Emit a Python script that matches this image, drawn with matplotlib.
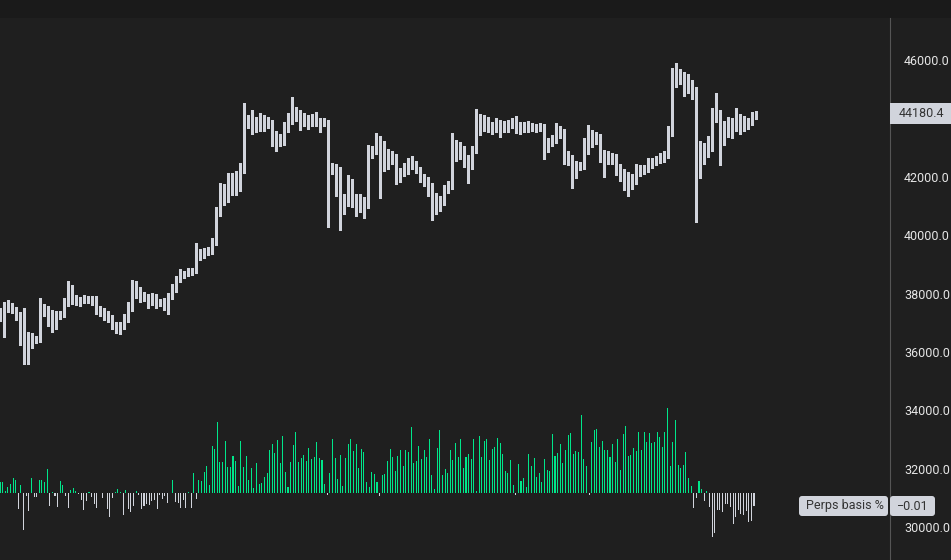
import numpy as np
import matplotlib
matplotlib.use("Agg")
import matplotlib.pyplot as plt
from matplotlib.patches import Rectangle, FancyBboxPatch
from matplotlib.transforms import IdentityTransform

# ─────────────────────────────────────────────
# COLOURS
# ─────────────────────────────────────────────
BG = "#1f1f1f"
BG_TOP = "#1a1a1a"
CANDLE = "#d1d4dc"
GREEN = "#00e68a"
SPINE = "#555555"
TICK_TXT = "#e6e6e6"
TAG_TXT = "#333333"

plt.rcParams["font.family"] = ["Roboto", "DejaVu Sans"]

# ─────────────────────────────────────────────
# DATA
# ─────────────────────────────────────────────
first_open = 37250

closes = [
    37370, 37510, 37570, 37440, 37300, 37100, 35730, 36340, 36410, 36440,
    37370, 37380, 37340, 36890, 37270, 37300, 37710, 38190, 37780, 37710,
    37780, 37810, 37790, 37750, 37440, 37340, 37300, 37160, 36890, 36750,
    36890, 37160, 37510, 38050, 37990, 37920, 37880, 37750, 37850, 37710,
    37740, 37610, 37920, 38190, 38470, 38670, 38700, 38740, 38770, 39390,
    39360, 39420, 39490, 39770, 40790, 41550, 41340, 41620, 41890, 41680,
    42230, 43880, 43950, 43810, 43770, 43880, 43910, 43810, 43260, 43330,
    43190, 43670, 43950, 44190, 44120, 43950, 43880, 43940, 44010, 43880,
    43840, 43850, 42300, 42290, 42230, 40860, 41200, 41680, 41270, 41030,
    41200, 41040, 42850, 42920, 43260, 43090, 42400, 42750, 42680, 41960,
    42160, 42300, 42510, 42400, 42230, 41960, 41890, 41680, 41310, 41030,
    41200, 41550, 41720, 42750, 42990, 42920, 42580, 42400, 42920, 43950,
    43770, 43880, 43700, 43740, 43810, 43670, 43740, 43810, 43880, 43740,
    43670, 43770, 43730, 43700, 43670, 43700, 43050, 43190, 43260, 43600,
    43530, 42750, 42640, 42160, 42400, 42370, 42990, 43160, 43400, 43330,
    42750, 42580, 42640, 42680, 42300, 42160, 42060, 41960, 41890, 42300,
    42230, 42300, 42510, 42540, 42580, 42640, 42750, 43530, 45380, 45450,
    45380, 45110, 45180, 44970, 43090, 42750, 42920, 43090, 44010, 44080,
    43600, 43670, 43740, 43810, 44010, 43770, 43880, 43910, 44050, 44180.4,
]

upper_wicks = [
    150, 200, 200, 120, 100, 80, 410, 340, 250, 100,
    480, 270, 200, 100, 150, 120, 150, 240, 120, 160,
    100, 130, 90, 110, 150, 120, 180, 100, 90, 120,
    150, 130, 200, 410, 380, 250, 130, 100, 170, 120,
    90, 110, 100, 150, 120, 160, 90, 120, 100, 340,
    150, 130, 110, 150, 180, 250, 200, 510, 250, 300,
    240, 650, 170, 340, 250, 300, 200, 150, 120, 250,
    150, 200, 250, 550, 200, 150, 250, 180, 150, 200,
    120, 150, 100, 180, 150, 100, 200, 380, 250, 150,
    200, 120, 240, 150, 240, 120, 150, 200, 120, 100,
    150, 180, 120, 200, 150, 100, 130, 110, 90, 120,
    150, 180, 120, 750, 270, 200, 120, 150, 130, 380,
    200, 250, 180, 150, 200, 130, 170, 150, 120, 200,
    150, 100, 130, 120, 100, 150, 100, 150, 180, 250,
    150, 100, 130, 90, 150, 120, 350, 600, 200, 150,
    120, 150, 250, 130, 100, 150, 120, 100, 130, 150,
    100, 120, 150, 100, 130, 180, 120, 200, 340, 450,
    250, 200, 350, 150, 100, 150, 250, 300, 350, 790,
    200, 250, 300, 200, 340, 150, 200, 120, 180, 60,
]

lower_wicks = [
    200, 850, 150, 120, 200, 850, 140, 150, 200, 120,
    100, 150, 450, 200, 120, 150, 100, 120, 150, 100,
    120, 90, 100, 130, 150, 120, 200, 150, 120, 100,
    130, 100, 120, 100, 150, 200, 120, 250, 150, 200,
    150, 170, 310, 100, 120, 90, 150, 100, 120, 80,
    200, 150, 100, 120, 100, 150, 300, 200, 250, 300,
    150, 100, 200, 350, 250, 200, 300, 150, 200, 380,
    150, 100, 120, 150, 200, 350, 150, 250, 200, 150,
    300, 100, 2020, 200, 900, 690, 150, 200, 300, 380,
    250, 450, 100, 200, 150, 1800, 200, 150, 250, 200,
    150, 120, 200, 150, 100, 150, 200, 350, 790, 300,
    200, 150, 100, 150, 200, 300, 250, 620, 150, 100,
    350, 200, 150, 250, 200, 300, 150, 200, 150, 250,
    200, 150, 200, 120, 150, 100, 450, 200, 150, 100,
    200, 300, 250, 550, 200, 150, 100, 200, 150, 200,
    250, 600, 150, 200, 250, 300, 500, 610, 300, 150,
    200, 150, 120, 200, 150, 100, 150, 100, 150, 300,
    200, 350, 250, 300, 2640, 790, 300, 250, 200, 150,
    1200, 500, 300, 400, 250, 300, 200, 250, 150, 60,
]

# perps basis in %, one bar per period
basis = [
    0.011, 0.011, 0.002, 0.006, 0.009, 0.015, 0.013, -0.016, 0.008, -0.037,
    -0.003, -0.018, 0.015, -0.004, -0.004, 0.013, 0.013, 0.011, 0.024, -0.013,
    0.001, -0.003, -0.014, 0.012, 0.008, -0.003, -0.015, 0.003, 0.005, 0.002,
    -0.001, -0.007, -0.017, -0.008, 0.001, -0.004, -0.011, -0.015, 0.0005, -0.005,
    0.0005, -0.016, -0.024, -0.005, 0.001, 0.004, 0.001, -0.022, 0.003, -0.016,
    -0.019, -0.013, 0.002, -0.002, -0.016, -0.013, -0.011, -0.012, -0.008, -0.007,
    -0.016, -0.002, -0.006, -0.003, -0.010, 0.0005, 0.013, -0.009, -0.010, -0.015,
    -0.007, -0.015, 0.001, -0.015, 0.020, -0.006, 0.013, 0.012, 0.021, 0.027,
    0.008, 0.047, 0.044, 0.071, 0.031, 0.031, 0.052, 0.026, 0.026, 0.037,
    0.032, 0.007, 0.052, 0.026, 0.037, 0.013,
    0.025, 0.005, 0.030, 0.009, 0.010, 0.016, 0.020, 0.043, 0.049, 0.040,
    0.053, 0.030, 0.057, 0.021, 0.006, 0.031, 0.048, 0.061, 0.031, 0.035,
    0.038, 0.032, 0.045, 0.034, 0.036, 0.051, 0.035, 0.033, 0.009, -0.002,
    0.020, 0.054, 0.035, 0.014, 0.038, 0.007, 0.035, 0.049, 0.054, 0.042,
    0.049, 0.025, 0.044, 0.041, 0.011, 0.006, 0.021, 0.019, 0.011, -0.003,
    0.018, 0.019, 0.032, 0.044, 0.036, 0.022, 0.037, 0.043, 0.027, 0.043,
    0.041, 0.066, 0.030, 0.032, 0.047, 0.034, 0.043, 0.036, 0.054, 0.018,
    0.004, 0.045, 0.063, 0.018, 0.024, 0.020, 0.043, 0.033, 0.050, 0.036,
    0.054, 0.025, 0.036, 0.039, 0.034, 0.054, 0.002, 0.057, 0.036, 0.052,
    0.054, 0.033, 0.044, 0.046, 0.055, 0.050, 0.039, 0.022, 0.020, 0.033,
    0.008, -0.002, 0.029, 0.012, 0.015, 0.006, 0.039, 0.027, 0.035, 0.016,
    0.020, 0.011, 0.034, 0.023, 0.022, 0.059, 0.037, 0.040, 0.049, 0.030,
    0.043, 0.058, 0.060, 0.039, 0.042, 0.041, 0.078, 0.034, 0.027, -0.002,
    0.051, 0.063, 0.064,
    0.046, 0.052, 0.043, 0.043, 0.036, 0.049, 0.031, 0.054, 0.023, 0.059,
    0.067, 0.037, 0.038, 0.045, 0.042, 0.061, 0.043, 0.061, 0.051, 0.060,
    0.050, 0.051, 0.061, 0.056, 0.046, 0.061, 0.085, 0.027, 0.051, 0.073,
    0.028, 0.025, 0.028, 0.041, 0.015, 0.007, -0.015, -0.005, 0.012, 0.004,
    -0.008, 0.002, -0.014, -0.044, -0.040, -0.017, -0.017, -0.019, -0.011, -0.011,
    -0.014, -0.031, -0.024, -0.017, -0.021, -0.022, -0.018, -0.029, -0.028, -0.013,
]

price_ticks = list(range(30000, 46001, 2000))

# ─────────────────────────────────────────────
# FIGURE
# ─────────────────────────────────────────────
W, H = 951, 560
fig = plt.figure(figsize=(W / 100, H / 100), dpi=100, facecolor=BG)
top_strip = 18
rect = [0, 0, 890 / W, (H - top_strip) / H]

fig.add_artist(Rectangle((0, (H - top_strip) / H), 1, top_strip / H,
                         transform=fig.transFigure, facecolor=BG_TOP,
                         edgecolor="none", zorder=0))

ax = fig.add_axes(rect, facecolor=BG)
ax_b = fig.add_axes(rect, facecolor="none")

# ── candles ────────────────────────────────────────────────────────
closes = np.array(closes)
opens = np.r_[first_open, closes[:-1]]
highs = np.maximum(opens, closes) + np.array(upper_wicks)
lows = np.minimum(opens, closes) - np.array(lower_wicks)
x = np.arange(len(closes))

ax.vlines(x, lows, highs, color=CANDLE, linewidth=0.75, zorder=2,
          antialiased=False)
body_lo = np.minimum(opens, closes)
body_h = np.maximum(np.abs(closes - opens), 40)
ax.bar(x, body_h, bottom=body_lo, width=0.5, color=CANDLE,
       linewidth=0, zorder=3, antialiased=False)

ax.set_xlim(0, 890 / 4)
ax.set_ylim(28875, 47438)
ax.yaxis.tick_right()
ax.set_yticks(price_ticks)
last = closes[-1]
# the last-price tag covers the tick label next to it
ax.set_yticklabels(["" if abs(t - last) < 600 else f"{t:.1f}"
                    for t in price_ticks])
ax.tick_params(axis="y", length=0, pad=10, labelsize=9,
               labelcolor=TICK_TXT)
ax.set_xticks([])
for s in ("left", "top", "bottom"):
    ax.spines[s].set_visible(False)
ax.spines["right"].set_color(SPINE)
ax.spines["right"].set_linewidth(0.8)

# ── basis histogram ────────────────────────────────────────────────
basis = np.array(basis)
xb = np.arange(len(basis))
colors = [GREEN if v >= 0 else CANDLE for v in basis]
ax_b.bar(xb, basis, width=0.4, color=colors, linewidth=0,
         antialiased=False)
ax_b.set_xlim(0, 890 / 2.618)
ax_b.set_ylim(-0.067, 0.475)
ax_b.axis("off")

# ── price tag on the axis ──────────────────────────────────────────
fig.canvas.draw()
y_price = ax.transData.transform((0, last))[1]
fig.add_artist(Rectangle((890, y_price - 10.5), 61, 21,
                         transform=IdentityTransform(), facecolor=CANDLE,
                         edgecolor="none", zorder=5))
fig.text(921 / W, y_price / H, f"{last:.1f}", ha="center", va="center",
         fontsize=9, color=TAG_TXT, zorder=6)

# ── basis tag ──────────────────────────────────────────────────────
y_basis = ax_b.transData.transform((0, basis[-1]))[1]
fig.add_artist(FancyBboxPatch((799, y_basis - 10), 89, 20,
                              boxstyle="round,pad=0,rounding_size=3",
                              transform=IdentityTransform(),
                              facecolor=CANDLE, edgecolor="none", zorder=5))
fig.add_artist(FancyBboxPatch((890, y_basis - 10), 45, 20,
                              boxstyle="round,pad=0,rounding_size=3",
                              transform=IdentityTransform(),
                              facecolor=CANDLE, edgecolor="none", zorder=5))
fig.text(806 / W, y_basis / H, "Perps basis %", ha="left", va="center",
         fontsize=9, color=TAG_TXT, zorder=6)
fig.text(912.5 / W, y_basis / H,
         f"{basis[-1]:.2f}".replace("-", "\u2212"), ha="center",
         va="center", fontsize=9, color=TAG_TXT, zorder=6)

fig.savefig("out.png", dpi=100, facecolor=BG)
